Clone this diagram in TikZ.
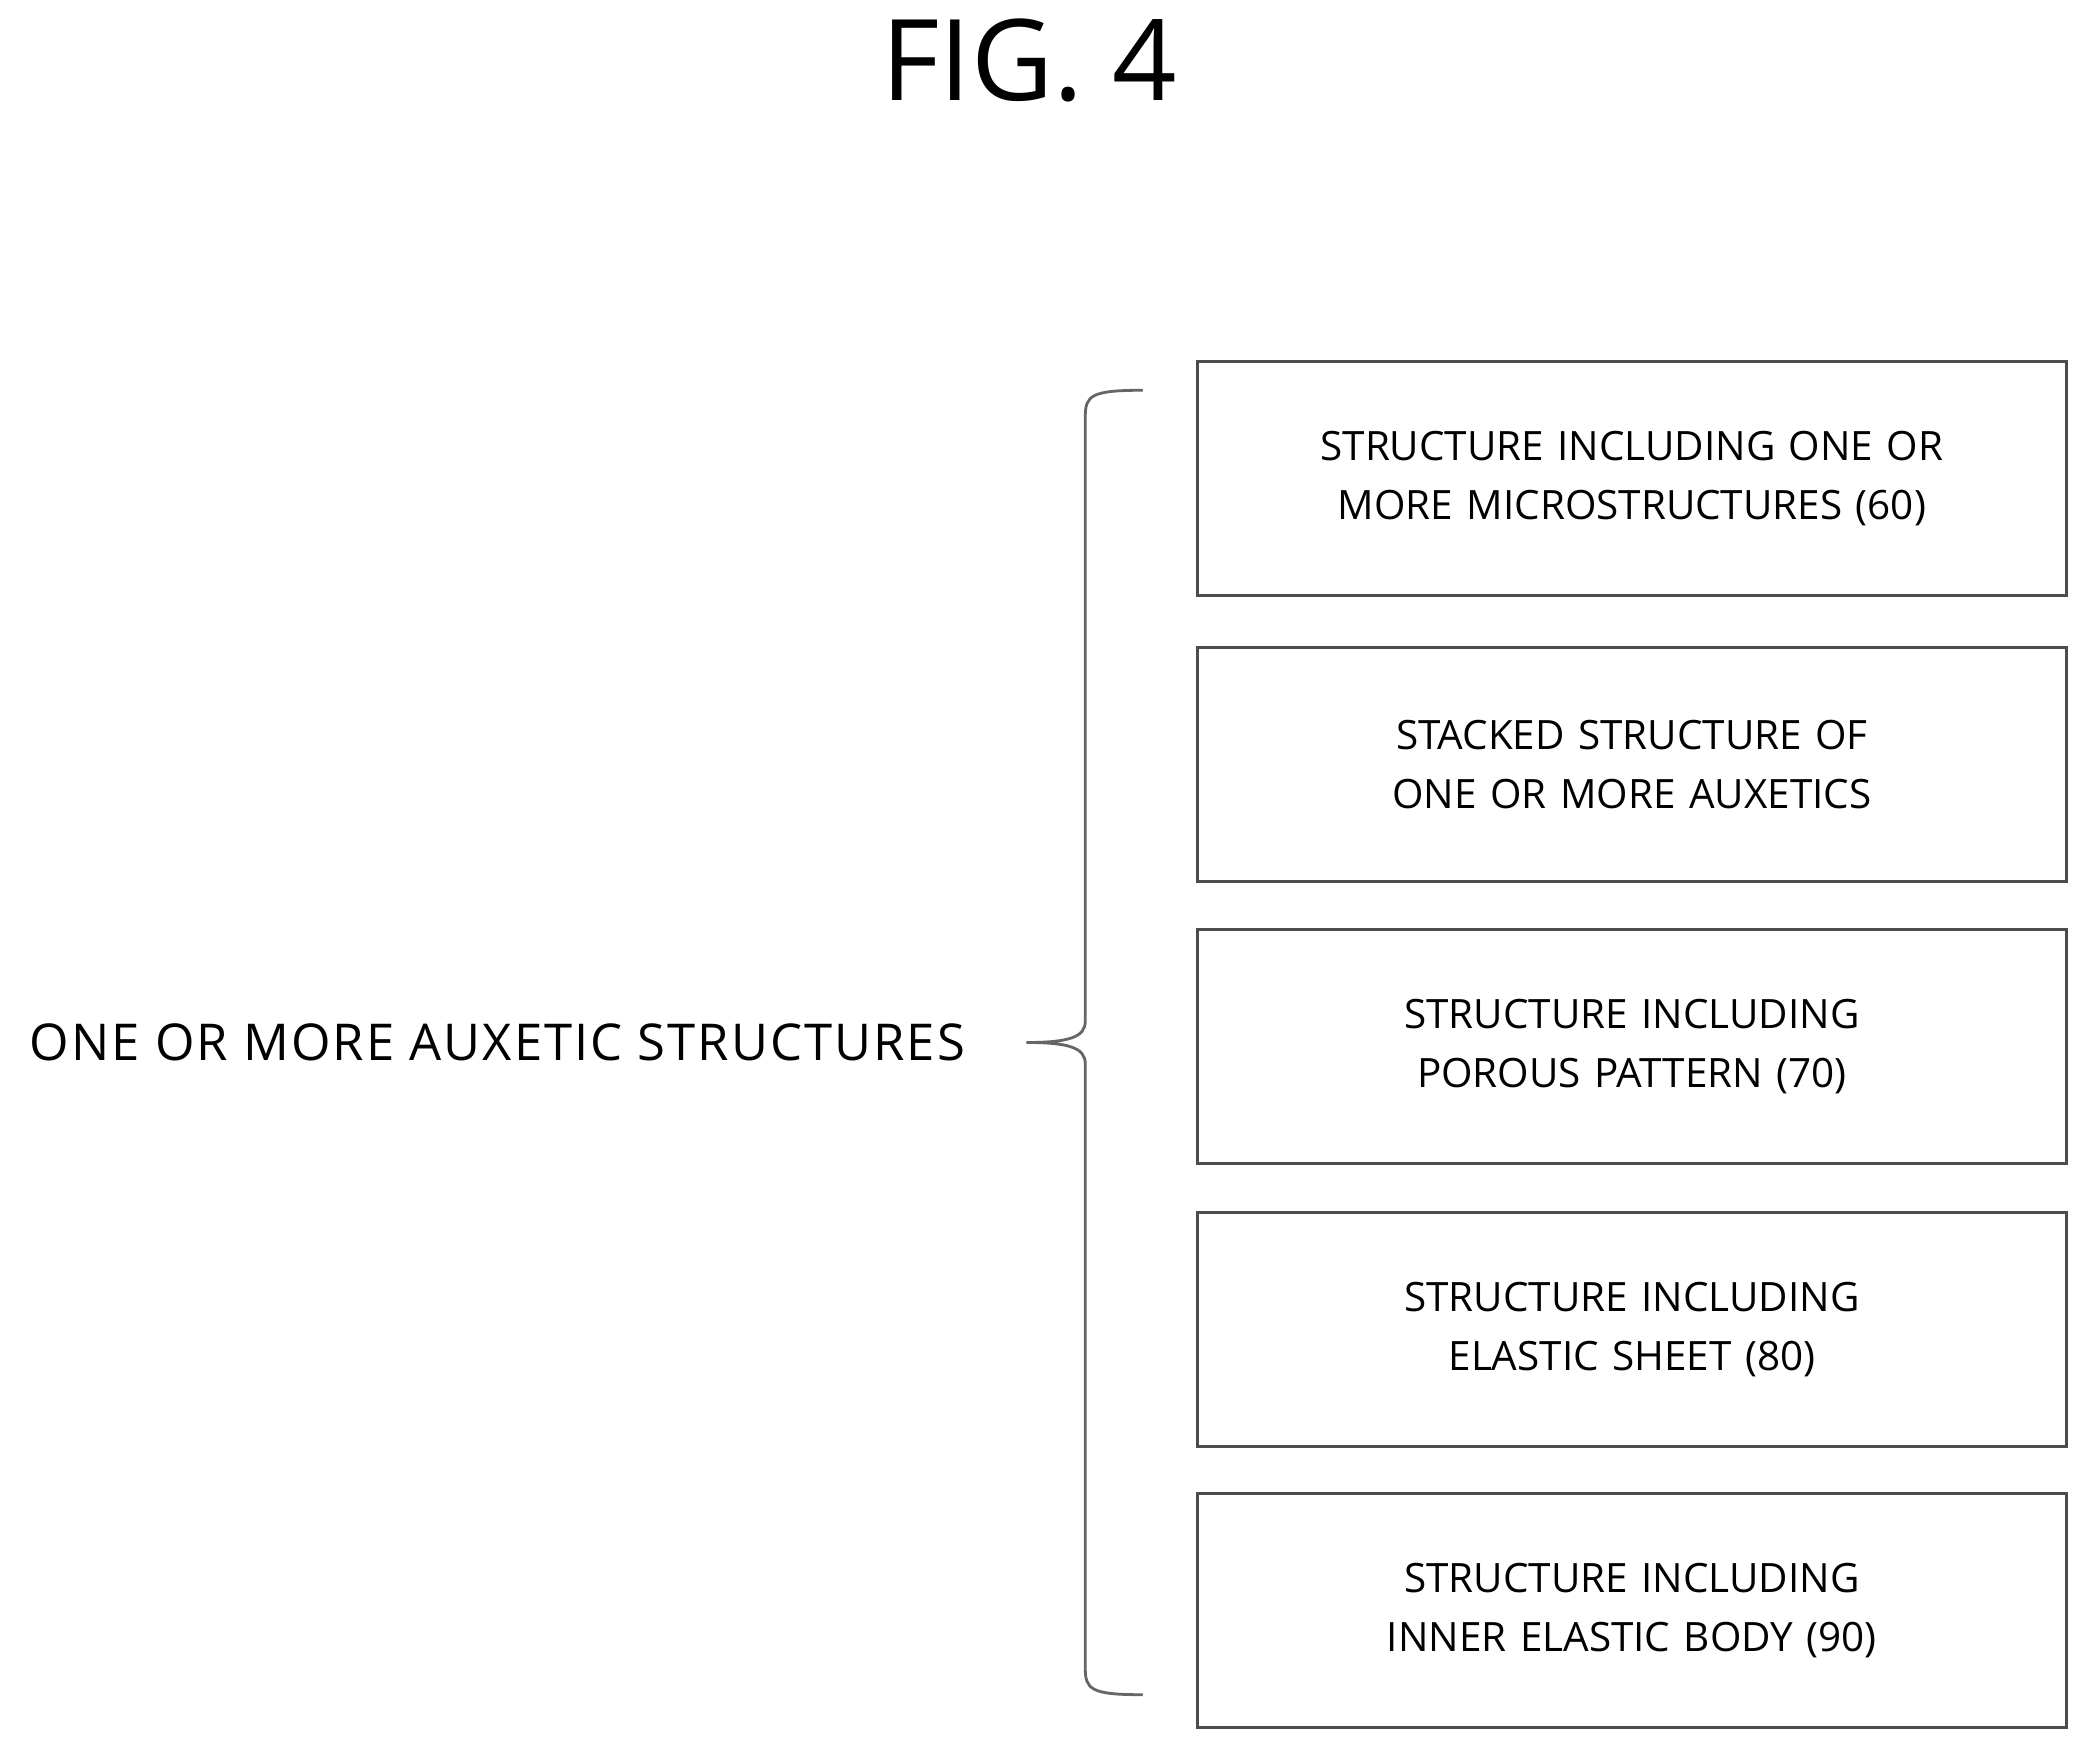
\documentclass[tikz,border=0pt]{standalone}
\usepackage{fontspec}
\setmainfont{Open Sans}
\usetikzlibrary{positioning}

\tikzset{
  item/.style={draw=black!70, line width=0.6pt, rectangle, minimum width=6.5cm,
    minimum height=1.75cm, text width=6.1cm, align=center,
    font=\fontsize{8.6}{12.5}\selectfont},
}

\begin{document}
\hyphenpenalty=10000 \exhyphenpenalty=10000
\begin{tikzpicture}[x=0.01cm, y=-0.01cm]
    \useasboundingbox (0,0) rectangle (1560,1304);

    % Title
    \node[font=\fontsize{24}{28}\selectfont] (title) at (770,45) {FIG. 4};

    % Structure boxes
    \node[item] (s60) at (1221,358) {STRUCTURE INCLUDING ONE OR MORE MICROSTRUCTURES (60)};
    \node[item] (stack) at (1221,572) {STACKED STRUCTURE OF ONE OR MORE AUXETICS};
    \node[item] (s70) at (1221,783) {STRUCTURE INCLUDING POROUS PATTERN (70)};
    \node[item] (s80) at (1221,995) {STRUCTURE INCLUDING ELASTIC SHEET (80)};
    \node[item] (s90) at (1221,1205) {STRUCTURE INCLUDING INNER ELASTIC BODY (90)};

    % Left label
    \node[font=\fontsize{10.8}{14}\selectfont\addfontfeatures{LetterSpace=4}, anchor=west] (aux) at (10,780) {ONE OR MORE AUXETIC STRUCTURES};

    % Brace
    \coordinate (tp) at (855,292);
    \coordinate (tip) at (768,780);
    \coordinate (bt) at (855,1268);
    \draw[black!60, line width=0.6pt]
        (tp) .. controls (816,292) and (812,296) .. (812,312) -- (812,764)
        .. controls (812,776) and (800,780) .. (tip)
        .. controls (800,780) and (812,784) .. (812,796) -- (812,1248)
        .. controls (812,1264) and (816,1268) .. (bt);
\end{tikzpicture}
\end{document}
